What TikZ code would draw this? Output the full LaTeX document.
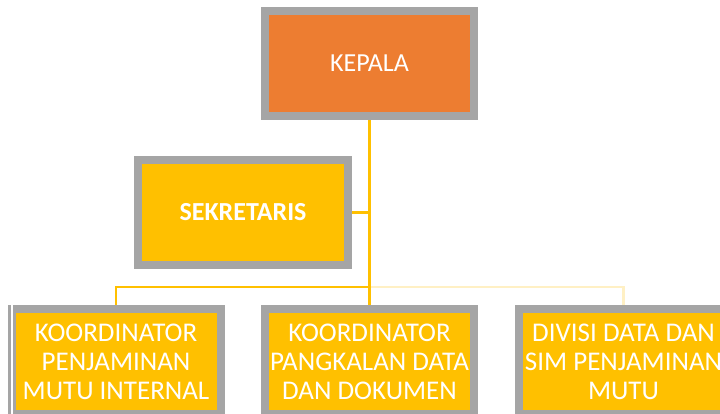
\documentclass[tikz,border=0pt]{standalone}
\usepackage{fontspec}
\setmainfont{Carlito}
\definecolor{boxorange}{HTML}{ED7D31}
\definecolor{boxgold}{HTML}{FFC000}
\definecolor{boxgray}{HTML}{A5A5A5}
\definecolor{paleline}{HTML}{FFF0C4}
\begin{document}
\begin{tikzpicture}[x=1pt,y=-1pt,
  orgbox/.style={draw=boxgray, line width=8pt, fill=boxgold, minimum width=209pt, minimum height=105pt,
    inner sep=0pt, text=white, align=center, font=\fontsize{26}{29}\selectfont},
  lowbox/.style={orgbox, font=\fontsize{27}{29}\selectfont},
  conn/.style={draw=boxgold, line width=2.5pt},
  paleconn/.style={draw=paleline, line width=2.5pt}]
\useasboundingbox (0,0) rectangle (720,413);
\clip (0,0) rectangle (720,413);
\fill[white] (0,0) rectangle (720,413);
\node[orgbox, fill=boxorange] (kepala) at (369.5,63.5) {KEPALA};
\node[orgbox, minimum width=210pt] (sek) at (243,212.5) {\bfseries SEKRETARIS};
\node[lowbox] (k1) at (116,361.5) {KOORDINATOR\\PENJAMINAN\\MUTU INTERNAL};
\node[lowbox] (k2) at (369.5,361.5) {KOORDINATOR\\PANGKALAN DATA\\DAN DOKUMEN};
\node[lowbox] (k3) at (623.5,361.5) {DIVISI DATA DAN\\SIM PENJAMINAN\\MUTU};
\coordinate (bus) at (369.5,287);
\path (k1.north west) ++(4,0) coordinate (gapt) (k1.south west) ++(4,0) coordinate (gapb);
\draw[white, line width=2pt] (gapt) -- (gapb);
\draw[paleconn] (bus) -| (k3.north);
\draw[conn] (kepala.south) -- (k2.north);
\draw[conn] (bus) -| (k1.north);
\draw[conn] (sek.east) -- (sek.east -| kepala.south);
\end{tikzpicture}
\end{document}
